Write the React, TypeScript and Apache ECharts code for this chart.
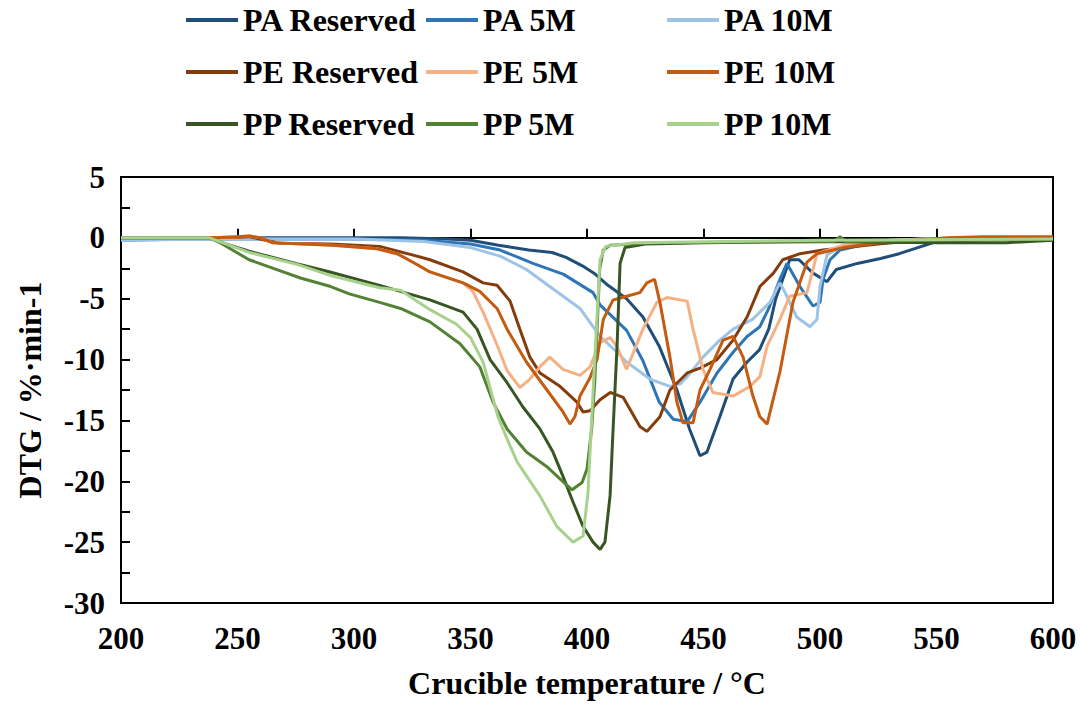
import React, { useEffect, useRef } from "react";
import * as echarts from "echarts";

const SERIES_NAMES = [
  "PA Reserved", "PA 5M", "PA 10M",
  "PE Reserved", "PE 5M", "PE 10M",
  "PP Reserved", "PP 5M", "PP 10M",
];

const COLORS = [
  "#1F4E79", "#2E75B6", "#9DC3E6",
  "#843C0C", "#F4B183", "#C55A11",
  "#375623", "#548235", "#A9D18E",
];

const X_TICKS = [200, 250, 300, 350, 400, 450, 500, 550, 600];
const Y_TICKS = [-30, -25, -20, -15, -10, -5, 0, 5];

// [temperature °C, DTG %/min]
const PA_RESERVED = [
  [200, -0.1], [230, 0], [260, 0], [300, 0], [320, 0], [340, -0.1], [350, -0.2], [362, -0.6],
  [375, -1.0], [385, -1.2], [391, -1.6], [398, -2.3], [403, -2.9], [409, -3.9], [417, -5.0],
  [424, -6.5], [431, -8.9], [438.6, -12.5], [444, -15.7], [448.5, -17.9], [451.5, -17.6],
  [457, -14.7], [462.7, -11.6], [468.7, -10.2], [474, -9.2], [478, -7.5], [481, -5.0],
  [484, -3.4], [487, -1.8], [491, -1.8], [497, -2.9], [503, -3.6], [507, -2.6], [516, -2.1],
  [526, -1.7], [534, -1.3], [542, -0.8], [550, -0.3], [560, -0.2], [580, -0.1], [600, -0.1],
];
const PA_5M = [
  [200, -0.2], [230, -0.1], [260, -0.1], [300, -0.1], [330, -0.2], [350, -0.5], [362.7, -1.0],
  [376.8, -2.1], [390, -3.0], [402.6, -4.5], [405.6, -5.5], [417, -7.6], [424, -10.1],
  [431, -13.5], [437, -14.9], [443, -15.1], [448.5, -13.5], [455.8, -11.1], [462.7, -9.4],
  [468.7, -8.1], [474.2, -7.3], [478, -5.8], [482.8, -3.4], [485.8, -2.1], [491.4, -4.0],
  [497, -5.6], [500, -5.3], [501.3, -3.4], [504.3, -1.8], [508.6, -1.0], [520, -0.5],
  [540, -0.3], [560, -0.1], [600, 0],
];
const PA_10M = [
  [200, -0.2], [240, -0.1], [300, -0.1], [330, -0.3], [350, -0.8], [362.7, -1.5], [374, -2.6],
  [384, -4.0], [397, -5.8], [405.6, -8.1], [412.9, -9.4], [417, -10.2], [427, -11.6],
  [435.6, -12.2], [440, -12.0], [443, -11.4], [449.8, -9.8], [457, -8.4], [462.7, -7.5],
  [471, -6.7], [478.5, -5.3], [482.8, -3.7], [485, -4.5], [490, -6.5], [495.7, -7.3],
  [498.7, -6.7], [500, -4.0], [503, -1.4], [510, -0.6], [530, -0.2], [560, 0], [600, 0],
];
const PE_RESERVED = [
  [200, 0], [250, 0.05], [255, 0.1], [262, -0.2], [268, -0.45], [290, -0.5], [311, -0.7],
  [325, -1.4], [332.6, -1.8], [346.8, -2.8], [355.4, -3.7], [361.4, -3.9], [367, -5.2],
  [371.2, -7.5], [375.5, -9.8], [379.8, -11.1], [388.4, -12.2], [395.7, -13.5], [398.3, -14.3],
  [401.3, -14.2], [405.6, -13.3], [410, -12.7], [415.5, -13.1], [422.7, -15.5], [425.7, -15.9],
  [431.3, -14.7], [435.6, -12.5], [443, -11.1], [448.5, -10.7], [455.8, -10.0], [462.7, -8.4],
  [468.7, -6.5], [474.2, -4.0], [480, -2.9], [484, -1.8], [491.4, -1.3], [501.3, -1.0],
  [516, -0.7], [530, -0.4], [550, -0.2], [580, -0.1], [600, 0],
];
const PE_5M = [
  [200, 0], [240, 0], [250, 0.1], [255, 0.15], [260, 0], [265, -0.4], [291, -0.6], [310, -0.9],
  [318.5, -1.3], [325.3, -2.0], [332.6, -2.8], [346.8, -3.7], [351, -4.4], [355.4, -6.1],
  [361.4, -8.8], [365.7, -10.9], [371.2, -12.3], [375.5, -11.6], [379.8, -10.6], [384, -9.8],
  [389.7, -10.8], [397, -11.3], [401.3, -10.6], [405.6, -8.6], [410, -8.2], [413, -9.0],
  [417, -10.8], [424, -7.5], [430, -5.3], [434.3, -4.9], [443, -5.2], [445.5, -7.5],
  [449.8, -10.8], [454, -12.7], [462.7, -13.0], [470, -12.2], [474.2, -11.4], [477.3, -8.9],
  [482.8, -6.7], [487, -4.8], [494.4, -4.5], [497, -2.6], [498.7, -1.3], [510, -0.6],
  [530, -0.2], [560, 0], [600, 0],
];
const PE_10M = [
  [200, 0], [240, 0], [250, 0.1], [255, 0.15], [260, 0], [265, -0.4], [291, -0.6], [310, -0.9],
  [318.5, -1.3], [325.3, -2.0], [332.6, -2.8], [346.8, -3.7], [354, -4.4], [361.4, -5.8],
  [365.7, -7.5], [374, -10.2], [382.8, -12.5], [389.7, -14.3], [392.7, -15.3], [394.8, -14.7],
  [397, -13.0], [401.3, -11.5], [404.3, -10.0], [407, -6.7], [411.2, -5.1], [417, -4.8],
  [422.7, -4.5], [425.7, -3.7], [429, -3.4], [431.3, -5.3], [435.6, -9.8], [438.6, -13.5],
  [441.2, -15.2], [445.5, -15.2], [448.5, -12.5], [452.8, -10.8], [458.4, -8.4], [462.7, -8.1],
  [467, -9.8], [471.2, -13.0], [474.2, -14.7], [477.3, -15.3], [482.8, -11.0], [488.4, -5.3],
  [494.4, -2.0], [498.7, -1.3], [510, -0.8], [525, -0.4], [540, -0.2], [555, 0], [570, 0.1],
  [600, 0.1],
];
const PP_RESERVED = [
  [200, 0], [238, 0], [245, -0.5], [255, -1.1], [275, -2.1], [289.7, -2.8], [311, -3.9],
  [332.6, -5.1], [346.8, -6.1], [352.8, -7.5], [358.4, -10.0], [365.7, -11.9], [372.5, -13.9],
  [379.8, -15.7], [385.4, -17.6], [389.7, -19.6], [394, -21.7], [398.3, -23.7], [402.6, -25.0],
  [405.6, -25.6], [407.7, -25.0], [409.9, -21.2], [411.2, -15.7], [412.9, -8.9], [414.2, -2.1],
  [416.3, -0.8], [425, -0.5], [450, -0.4], [500, -0.3], [550, -0.4], [580, -0.4], [600, -0.2],
];
const PP_5M = [
  [200, 0], [238, 0], [242.5, -0.4], [255, -1.8], [277, -3.3], [290, -4.0], [298, -4.6],
  [311, -5.3], [320, -5.8], [332.6, -6.9], [345.5, -8.7], [354, -10.6], [359.7, -13.5],
  [365.7, -15.7], [374, -17.6], [382.8, -18.8], [388.4, -19.8], [393.6, -20.7], [397.9, -20.1],
  [400, -19.0], [402, -15.7], [403.4, -11.6], [404.3, -7.5], [405.5, -2.5], [407, -1.0],
  [410, -0.6], [430, -0.4], [500, -0.3], [506, -0.3], [508.6, 0.1], [511, -0.3], [550, -0.2],
  [600, -0.1],
];
const PP_10M = [
  [200, 0], [238, 0], [245, -0.5], [255, -1.2], [276, -2.2], [290, -3.1], [311, -4.1],
  [320, -4.3], [332.6, -5.9], [344, -7.1], [350, -8.2], [355.4, -10.2], [361.8, -14.7],
  [365, -16.2], [370, -18.4], [379.8, -21.2], [387, -23.7], [394, -25.0], [398.3, -24.5],
  [400.4, -21.0], [402.5, -13.0], [404, -7.5], [405.6, -1.8], [408, -0.7], [420, -0.4],
  [500, -0.2], [600, -0.1],
];

const SERIES_DATA = [
  PA_RESERVED, PA_5M, PA_10M,
  PE_RESERVED, PE_5M, PE_10M,
  PP_RESERVED, PP_5M, PP_10M,
];

const FONT = "'Liberation Serif', 'Times New Roman', serif";

export default function App() {
  const ref = useRef<HTMLDivElement>(null);

  useEffect(() => {
    document.body.style.margin = "0";
    if (!ref.current) return;
    const chart = echarts.init(ref.current, null, { renderer: "svg" });

    const legendText = {
      fontFamily: FONT,
      fontWeight: "bold" as const,
      fontSize: 32,
      color: "#000",
      lineHeight: 34,
    };
    const legendCols = [0, 1, 2].map((c) => ({
      orient: "vertical" as const,
      left: [186, 426, 667][c],
      top: 3,
      padding: 0,
      itemGap: 18,
      itemWidth: 52,
      itemHeight: 4,
      icon: "rect",
      textStyle: legendText,
      data: [SERIES_NAMES[c], SERIES_NAMES[c + 3], SERIES_NAMES[c + 6]],
    }));

    chart.setOption({
      animation: false,
      legend: legendCols,
      grid: {
        left: 121,
        right: 28,
        top: 177,
        bottom: 100,
        show: true,
        borderColor: "#000",
        borderWidth: 2,
      },
      xAxis: {
        type: "value",
        min: 200,
        max: 600,
        interval: 50,
        name: "Crucible temperature / °C",
        nameLocation: "middle",
        nameGap: 64,
        nameTextStyle: { fontFamily: FONT, fontWeight: "bold", fontSize: 32, color: "#000" },
        axisLine: { lineStyle: { color: "#000", width: 2 } },
        axisTick: { inside: true, length: 9, lineStyle: { color: "#000", width: 2 } },
        axisLabel: {
          fontFamily: FONT, fontWeight: "bold", fontSize: 31, color: "#000", margin: 20,
          formatter: (v: number) => (X_TICKS.includes(v) ? String(v) : ""),
        },
        splitLine: { show: false },
      },
      yAxis: {
        type: "value",
        min: -30,
        max: 5,
        interval: 5,
        name: "DTG / %·min-1",
        nameLocation: "middle",
        nameGap: 75,
        nameRotate: 90,
        nameTextStyle: { fontFamily: FONT, fontWeight: "bold", fontSize: 32, color: "#000" },
        axisLine: { lineStyle: { color: "#000", width: 2 } },
        axisTick: { inside: true, length: 9, lineStyle: { color: "#000", width: 2 } },
        minorTick: { show: true, splitNumber: 2, length: 9, lineStyle: { color: "#000", width: 2 } },
        axisLabel: {
          fontFamily: FONT, fontWeight: "bold", fontSize: 31, color: "#000", margin: 16,
          formatter: (v: number) => (Y_TICKS.includes(v) ? String(v) : ""),
        },
        splitLine: { show: false },
        minorSplitLine: { show: false },
      },
      series: SERIES_NAMES.map((name, i) => ({
        name,
        type: "line",
        data: SERIES_DATA[i],
        showSymbol: false,
        symbol: "none",
        color: COLORS[i],
        lineStyle: { width: 3, color: COLORS[i] },
        z: 2 + i,
      })),
    });

    return () => chart.dispose();
  }, []);

  return <div ref={ref} style={{ width: 1081, height: 704 }} />;
}
